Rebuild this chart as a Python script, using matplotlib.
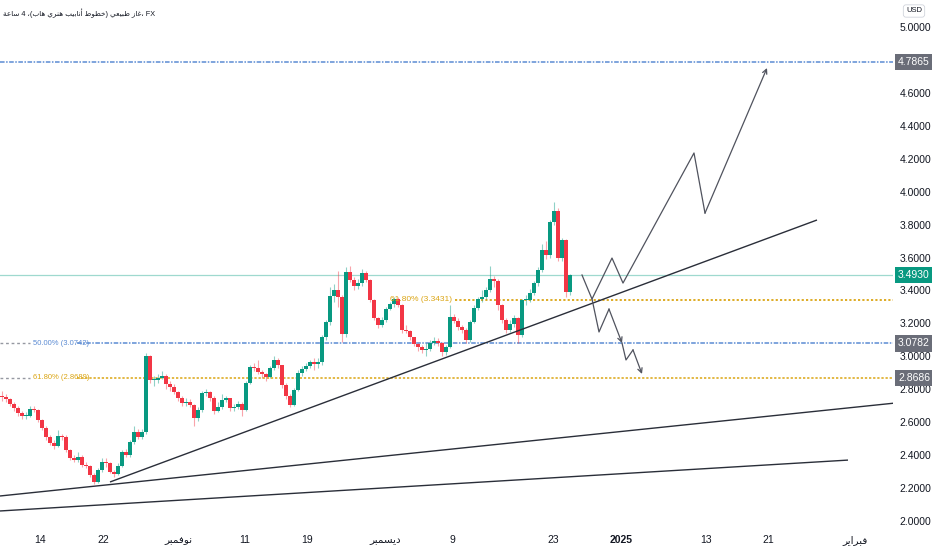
import numpy as np
import matplotlib.pyplot as plt

plt.rcParams['font.family'] = ['Liberation Sans', 'DejaVu Sans']

# ---- 4h candles (open of each bar = previous close) ----
first_open = 2.76
closes = [2.753, 2.741, 2.711, 2.686, 2.656, 2.638, 2.640, 2.680, 2.674, 2.613,
          2.565, 2.510, 2.474, 2.456, 2.516, 2.510, 2.431, 2.383, 2.371, 2.389,
          2.340, 2.334, 2.279, 2.237, 2.310, 2.358, 2.352, 2.298, 2.285, 2.334,
          2.419, 2.401, 2.480, 2.541, 2.510, 2.541, 3.002, 2.856, 2.856, 2.868,
          2.880, 2.832, 2.814, 2.783, 2.747, 2.717, 2.723, 2.705, 2.626, 2.674,
          2.777, 2.783, 2.747, 2.668, 2.692, 2.735, 2.747, 2.686, 2.692, 2.711,
          2.674, 2.838, 2.935, 2.929, 2.905, 2.893, 2.874, 2.929, 2.978, 2.947,
          2.826, 2.759, 2.705, 2.796, 2.899, 2.923, 2.941, 2.966, 2.953, 2.966,
          3.117, 3.209, 3.366, 3.403, 3.360, 3.136, 3.512, 3.464, 3.427, 3.445,
          3.506, 3.464, 3.342, 3.233, 3.190, 3.221, 3.287, 3.318, 3.348, 3.312,
          3.160, 3.154, 3.117, 3.075, 3.057, 3.039, 3.045, 3.081, 3.093, 3.081,
          3.026, 3.057, 3.239, 3.215, 3.178, 3.160, 3.099, 3.209, 3.294, 3.348,
          3.360, 3.403, 3.470, 3.458, 3.312, 3.221, 3.160, 3.196, 3.233, 3.130,
          3.342, 3.342, 3.385, 3.445, 3.524, 3.646, 3.615, 3.816, 3.883, 3.597,
          3.706, 3.390, 3.493]
highs = [2.79, 2.77, 2.75, 2.72, 2.70, 2.67, 2.66, 2.70, 2.70, 2.68,
         2.62, 2.58, 2.52, 2.49, 2.55, 2.53, 2.52, 2.44, 2.40, 2.42,
         2.40, 2.36, 2.34, 2.29, 2.32, 2.38, 2.38, 2.36, 2.31, 2.35,
         2.43, 2.44, 2.49, 2.58, 2.56, 2.56, 3.02, 3.01, 2.88, 2.89,
         2.91, 2.89, 2.85, 2.83, 2.79, 2.76, 2.75, 2.74, 2.71, 2.69,
         2.79, 2.80, 2.79, 2.76, 2.72, 2.77, 2.76, 2.75, 2.71, 2.73,
         2.72, 2.85, 2.95, 2.96, 2.98, 2.92, 2.90, 2.94, 3.00, 2.99,
         2.95, 2.84, 2.77, 2.81, 2.92, 2.94, 2.96, 2.98, 2.99, 2.99,
         3.13, 3.22, 3.42, 3.44, 3.52, 3.37, 3.54, 3.55, 3.48, 3.47,
         3.53, 3.52, 3.47, 3.35, 3.24, 3.24, 3.30, 3.33, 3.36, 3.36,
         3.32, 3.19, 3.16, 3.12, 3.08, 3.07, 3.08, 3.10, 3.12, 3.11,
         3.09, 3.07, 3.31, 3.26, 3.23, 3.19, 3.17, 3.22, 3.31, 3.36,
         3.40, 3.42, 3.55, 3.49, 3.47, 3.32, 3.23, 3.22, 3.25, 3.24,
         3.35, 3.37, 3.41, 3.46, 3.54, 3.68, 3.70, 3.83, 3.937, 3.90,
         3.72, 3.71, 3.50]
lows = [2.73, 2.72, 2.70, 2.67, 2.64, 2.62, 2.62, 2.63, 2.66, 2.60,
        2.55, 2.49, 2.46, 2.44, 2.45, 2.49, 2.42, 2.37, 2.36, 2.36,
        2.33, 2.32, 2.27, 2.225, 2.23, 2.30, 2.33, 2.29, 2.27, 2.28,
        2.33, 2.39, 2.39, 2.47, 2.50, 2.50, 2.53, 2.84, 2.82, 2.84,
        2.86, 2.80, 2.79, 2.77, 2.73, 2.70, 2.70, 2.69, 2.58, 2.61,
        2.66, 2.76, 2.73, 2.65, 2.66, 2.68, 2.72, 2.67, 2.67, 2.68,
        2.64, 2.67, 2.83, 2.91, 2.89, 2.87, 2.85, 2.87, 2.92, 2.93,
        2.81, 2.74, 2.69, 2.70, 2.79, 2.88, 2.91, 2.93, 2.92, 2.93,
        2.95, 3.10, 3.19, 3.33, 3.30, 3.09, 3.12, 3.45, 3.40, 3.41,
        3.43, 3.45, 3.33, 3.22, 3.17, 3.18, 3.21, 3.28, 3.30, 3.30,
        3.14, 3.14, 3.10, 3.06, 3.03, 3.02, 3.00, 3.03, 3.07, 3.06,
        3.00, 3.01, 3.05, 3.20, 3.16, 3.14, 3.08, 3.09, 3.20, 3.28,
        3.33, 3.35, 3.39, 3.42, 3.28, 3.20, 3.14, 3.15, 3.18, 3.08,
        3.12, 3.31, 3.33, 3.37, 3.43, 3.51, 3.59, 3.60, 3.80, 3.58,
        3.58, 3.36, 3.37]

# horizontal levels
last_price = 3.4930
target_level = 4.7865
fib50_level = 3.0782
fib618_low = 2.8686
fib618_high = 3.3431

# trend lines (bar index, price)
trend_x = [[-0.5, 223.5], [-0.5, 211.5], [27, 203.75]]
trend_y = [[2.152, 2.717], [2.061, 2.370], [2.237, 3.828]]

# projected paths
up_x = [145, 147.5, 152.5, 155.25, 173, 175.75, 191.25]
up_y = [3.494, 3.348, 3.597, 3.445, 4.235, 3.870, 4.751]
down1_x = [147.5, 149.25, 151.75, 155]
down1_y = [3.348, 3.148, 3.287, 3.081]
down2_x = [155, 156, 157.75, 160]
down2_y = [3.081, 2.978, 3.039, 2.893]

# x axis
tick_pos = [9.5, 25.25, 44, 60.75, 76.25, 95.75, 112.5, 137.75, 154.75, 176, 191.5, 213.25]
tick_txt = ['14', '22', 'نوفمبر', '11', '19', 'ديسمبر', '9', '23', '2025', '13', '21', 'فبراير']
# 4.8000 sits under the target price box, so it is not shown
price_ticks = [2.0, 2.2, 2.4, 2.6, 2.8, 3.0, 3.2, 3.4, 3.6, 3.8, 4.0, 4.2, 4.4, 4.6, 5.0]

title_ar = 'غاز طبيعي (خطوط أنابيب هنري هاب)، 4 ساعة'

# minimal arabic shaping for matplotlib (no bidi/shaping in the renderer)
FORMS = {
    'ا': ('\ufe8d', '\ufe8e', None, None),
    'أ': ('\ufe83', '\ufe84', None, None),
    'ب': ('\ufe8f', '\ufe90', '\ufe91', '\ufe92'),
    'ة': ('\ufe93', '\ufe94', None, None),
    'خ': ('\ufea5', '\ufea6', '\ufea7', '\ufea8'),
    'د': ('\ufea9', '\ufeaa', None, None),
    'ر': ('\ufead', '\ufeae', None, None),
    'ز': ('\ufeaf', '\ufeb0', None, None),
    'س': ('\ufeb1', '\ufeb2', '\ufeb3', '\ufeb4'),
    'ط': ('\ufec1', '\ufec2', '\ufec3', '\ufec4'),
    'ع': ('\ufec9', '\ufeca', '\ufecb', '\ufecc'),
    'غ': ('\ufecd', '\ufece', '\ufecf', '\ufed0'),
    'ف': ('\ufed1', '\ufed2', '\ufed3', '\ufed4'),
    'م': ('\ufee1', '\ufee2', '\ufee3', '\ufee4'),
    'ن': ('\ufee5', '\ufee6', '\ufee7', '\ufee8'),
    'ه': ('\ufee9', '\ufeea', '\ufeeb', '\ufeec'),
    'و': ('\ufeed', '\ufeee', None, None),
    'ي': ('\ufef1', '\ufef2', '\ufef3', '\ufef4'),
}


def rtl(text):
    out = []
    for k, ch in enumerate(text):
        if ch not in FORMS:
            out.append(ch)
            continue
        iso, fin, ini, med = FORMS[ch]
        prev = text[k - 1] if k > 0 else ''
        nxt = text[k + 1] if k + 1 < len(text) else ''
        jp = prev in FORMS and FORMS[prev][2] is not None
        jn = ini is not None and nxt in FORMS
        out.append(med if (jp and jn) else fin if jp else ini if jn else iso)
    s = ''.join(out)[::-1]
    return s.translate(str.maketrans('()', ')('))


GREEN = '#089981'
RED = '#f23645'
BLUE = '#5b8bd3'
GOLD = '#dba514'
GRAY = '#9598a1'
LINE = '#2a2e39'

fig = plt.figure(figsize=(9.32, 5.5), dpi=100)
ax = fig.add_axes([0, 0.04, 893 / 932, 0.96])
ax.set_xlim(-0.5, 222.75)
ax.set_ylim(1.9576, 5.164)

# candles
opens = [first_open] + closes[:-1]
idx = np.arange(len(closes))
for i, o, h, l, c in zip(idx, opens, highs, lows, closes):
    col = GREEN if c >= o else RED
    ax.vlines(i, l, h, color=col, lw=0.8, alpha=0.45, zorder=3)
    ax.bar(i, max(abs(c - o), 0.004), bottom=min(o, c), width=0.8,
           color=col, lw=0, zorder=4)

# levels
ax.axhline(last_price, color='#9fd9cf', lw=0.9, zorder=2)
ax.axhline(target_level, color=BLUE, lw=1.1, ls=(0, (3, 1, 1, 1)), zorder=2)

for lvl, col, txt in [(fib50_level, BLUE, '50.00% (3.0742)'),
                      (fib618_low, GOLD, '61.80% (2.8689)')]:
    ax.plot([-0.5, 7.0], [lvl, lvl], color=GRAY, lw=1, ls=(0, (2, 2)), zorder=2)
    ax.text(7.75, lvl, txt, color=col, fontsize=5.5, va='center', ha='left', zorder=5)
    ax.plot([18.75, 222.75], [lvl, lvl], color=col, lw=1.1,
            ls=(0, (3, 1, 1, 1)) if col == BLUE else (0, (1.5, 1.2)), zorder=2)

ax.plot([113.25, 222.75], [fib618_high, fib618_high], color=GOLD, lw=1.3,
        ls=(0, (1.2, 1.2)), zorder=2)
ax.text(112.5, fib618_high, '61.80% (3.3431)', color=GOLD, fontsize=6,
        va='center', ha='right', zorder=5)

# trend lines
for tx, ty in zip(trend_x, trend_y):
    ax.plot(tx, ty, color=LINE, lw=1.0, zorder=5, solid_capstyle='butt')

# projected paths with arrow heads
for px, py in [(up_x, up_y), (down1_x, down1_y), (down2_x, down2_y)]:
    ax.plot(px[:-1], py[:-1], color='#50535e', lw=0.9, zorder=5)
    ax.annotate('', xy=(px[-1], py[-1]), xytext=(px[-2], py[-2]),
                arrowprops=dict(arrowstyle='->', color='#50535e', lw=0.9,
                                shrinkA=0, shrinkB=0, mutation_scale=8),
                zorder=5)

# axes cosmetics
for sp in ax.spines.values():
    sp.set_visible(False)
ax.yaxis.tick_right()
ax.set_yticks(price_ticks)
ax.set_yticklabels(['%.4f' % v for v in price_ticks])
ax.tick_params(axis='y', length=0, pad=4.5, labelsize=7.5, labelcolor='#131722')
ax.set_xticks(tick_pos)
ax.set_xticklabels([rtl(t) if not t.isdigit() else t for t in tick_txt])
ax.tick_params(axis='x', length=0, pad=5, labelsize=7.5, labelcolor='#131722')
for lab in ax.get_xticklabels():
    if lab.get_text() == '2025':
        lab.set_fontweight('bold')

# price boxes on the right scale
for lvl, fc in [(target_level, '#6a6d78'), (last_price, GREEN),
                (fib50_level, '#6a6d78'), (fib618_low, '#6a6d78')]:
    ax.annotate('%.4f' % lvl, xy=(1.0235, lvl), xycoords=('axes fraction', 'data'),
                ha='center', va='center', color='white', fontsize=7.5,
                bbox=dict(boxstyle='square,pad=0.3', fc=fc, ec='none'),
                annotation_clip=False, zorder=10)

fig.text(914 / 932, 1 - 11 / 550, 'USD', fontsize=5.5, color='#131722',
         ha='center', va='center',
         bbox=dict(boxstyle='round,pad=0.35', fc='white', ec='#d1d4dc', lw=0.6))

fig.text(0.003, 1 - 13 / 550, rtl(title_ar) + '، FX', fontsize=5.2,
         color='#131722', ha='left', va='center')

fig.savefig('out.png', dpi=100)
